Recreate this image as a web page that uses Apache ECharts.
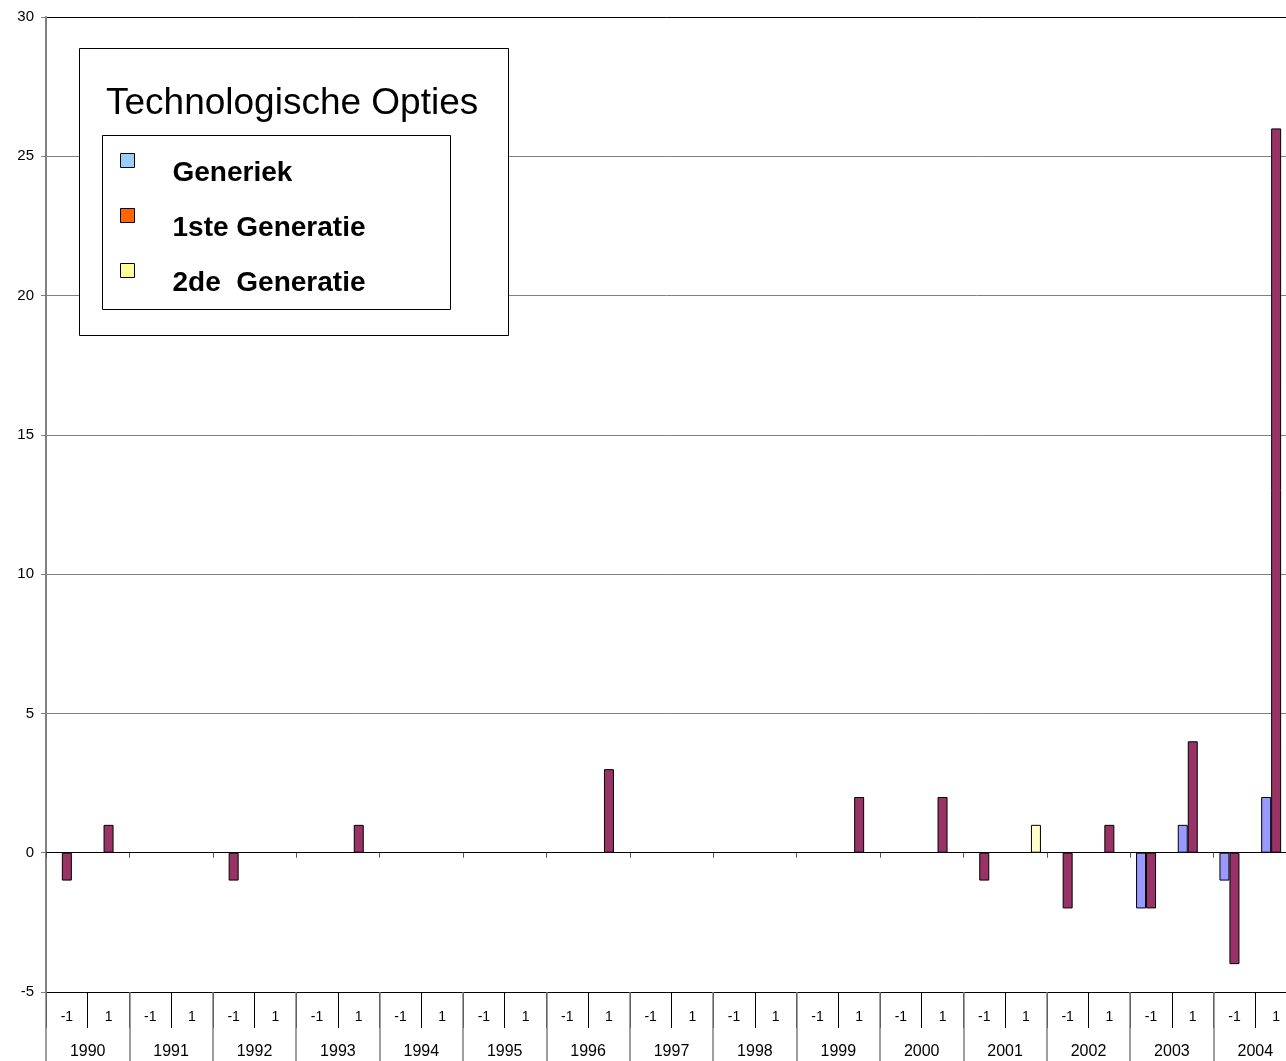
<!DOCTYPE html>
<html>
<head>
<meta charset="utf-8">
<script src="https://cdn.jsdelivr.net/npm/echarts@6/dist/echarts.min.js"></script>
<style>
	html, body { margin: 0; padding: 0; background: #fff; }
	#chart { width: 1286px; height: 1061px; }
</style>
</head>
<body>
<div id="chart"></div>
<script>
// years and the two sub categories per year
const years = [ '1990', '1991', '1992', '1993', '1994', '1995', '1996', '1997',
	'1998', '1999', '2000', '2001', '2002', '2003', '2004' ];
const subLabels = [ '-1', '1' ];

// values per (year, sub) pair, in order 1990 -1, 1990 1, 1991 -1, ...
const generiek = [
	0, 0, 0, 0, 0, 0, 0, 0, 0, 0, 0, 0, 0, 0, 0,
	0, 0, 0, 0, 0, 0, 0, 0, 0, 0, 0, -2, 1, -1, 2
];
const ersteGeneratie = [
	-1, 1, 0, 0, -1, 0, 0, 1, 0, 0, 0, 0, 0, 3, 0,
	0, 0, 0, 0, 2, 0, 2, -1, 0, -2, 1, -2, 4, -4, 26
];
const tweedeGeneratie = [
	0, 0, 0, 0, 0, 0, 0, 0, 0, 0, 0, 0, 0, 0, 0,
	0, 0, 0, 0, 0, 0, 0, 0, 1, 0, 0, 0, 0, 0, 0
];

const seriesNames = [ 'Generiek', '1ste Generatie', '2de  Generatie' ];
const barColors = [ '#9999FF', '#993366', '#FFFFCC' ];
// the legend swatches do not match the bars in the source chart
const legendColors = [ '#99CCFF', '#FF6600', '#FFFF99' ];

const fontFamily = 'Liberation Sans, Arial, sans-serif';

const categories = [];
years.forEach( ( year ) => {
	subLabels.forEach( ( sub ) => {
		categories.push( year + ' ' + sub );
	} );
} );
const subCategoryLabels = categories.map( ( c ) => c.split( ' ' )[ 1 ] );

// empty cells are not drawn at all
const toBarData = ( values ) => values.map( ( v ) => ( v === 0 ? null : v ) );

const chart = echarts.init( document.getElementById( 'chart' ), null, { renderer: 'canvas' } );

const makeSeries = ( values, i ) => ( {
	name: seriesNames[ i ],
	type: 'bar',
	xAxisIndex: 0,
	data: toBarData( values ),
	barWidth: 10,
	barGap: '0%',
	itemStyle: {
		color: barColors[ i ],
		borderColor: '#000',
		borderWidth: 1
	},
	z: 3
} );

chart.setOption( {
	animation: false,
	backgroundColor: '#fff',
	textStyle: { fontFamily: fontFamily },
	grid: {
		left: 46,
		top: 17,
		right: -11,
		bottom: 69,
		containLabel: false,
		// the last category runs off the right edge, as in the source
		outerBoundsMode: 'none'
	},
	title: {
		text: 'Technologische Opties',
		left: 106,
		top: 85,
		padding: 0,
		z: 14,
		textStyle: {
			fontFamily: fontFamily,
			fontSize: 37,
			fontWeight: 'normal',
			color: '#000'
		}
	},
	graphic: [
		{
			type: 'rect',
			left: 79,
			top: 48,
			shape: { width: 429, height: 287 },
			style: { fill: '#fff', stroke: '#000', lineWidth: 1 },
			z: 10
		},
		{
			type: 'rect',
			left: 102,
			top: 135,
			shape: { width: 348, height: 174 },
			style: { fill: '#fff', stroke: '#000', lineWidth: 1 },
			z: 11
		}
	],
	legend: {
		orient: 'vertical',
		left: 120,
		top: 134,
		padding: 0,
		itemGap: 2,
		itemWidth: 14,
		itemHeight: 14,
		icon: 'rect',
		z: 12,
		data: seriesNames.map( ( name, i ) => ( {
			name: name,
			itemStyle: { color: legendColors[ i ], borderColor: '#000', borderWidth: 1 }
		} ) ),
		formatter: ( name ) => '{t|' + name + '}',
		textStyle: {
			color: '#000',
			rich: {
				t: {
					fontFamily: fontFamily,
					fontSize: 28,
					fontWeight: 'bold',
					color: '#000',
					lineHeight: 28,
					padding: [ 25, 0, 0, 33 ]
				}
			}
		}
	},
	xAxis: [
		{
			// carries the bars, drawn on the zero line
			type: 'category',
			data: categories,
			position: 'bottom',
			axisLine: { onZero: true, lineStyle: { color: '#000', width: 1 } },
			axisTick: { show: true, length: 5, lineStyle: { color: '#555' } },
			axisLabel: { show: false },
			splitLine: { show: false }
		},
		{
			type: 'category',
			data: subCategoryLabels,
			position: 'bottom',
			axisLine: { onZero: false, lineStyle: { color: '#000', width: 1 } },
			axisTick: { show: true, length: 36, lineStyle: { color: '#000' } },
			axisLabel: { margin: 18, fontSize: 14, color: '#000', fontFamily: fontFamily },
			splitLine: { show: false }
		},
		{
			type: 'category',
			data: years,
			position: 'bottom',
			z: 5,
			axisLine: { show: false, onZero: false },
			axisTick: { show: true, length: 70, lineStyle: { color: '#808080', width: 1.5 } },
			axisLabel: { margin: 52, fontSize: 16, color: '#000', fontFamily: fontFamily },
			splitLine: { show: false }
		}
	],
	yAxis: {
		type: 'value',
		min: -5,
		max: 30,
		interval: 5,
		axisLine: { show: true, lineStyle: { color: '#808080', width: 2 } },
		axisTick: { show: true, length: 5, lineStyle: { color: '#808080' } },
		axisLabel: { margin: 12, fontSize: 15, color: '#000', fontFamily: fontFamily },
		splitLine: {
			show: true,
			lineStyle: {
				color: [ '#000', '#000', '#808080', '#808080', '#808080', '#808080', '#808080', '#000' ],
				width: 1
			}
		}
	},
	series: [ generiek, ersteGeneratie, tweedeGeneratie ].map( makeSeries )
} );
</script>
</body>
</html>
